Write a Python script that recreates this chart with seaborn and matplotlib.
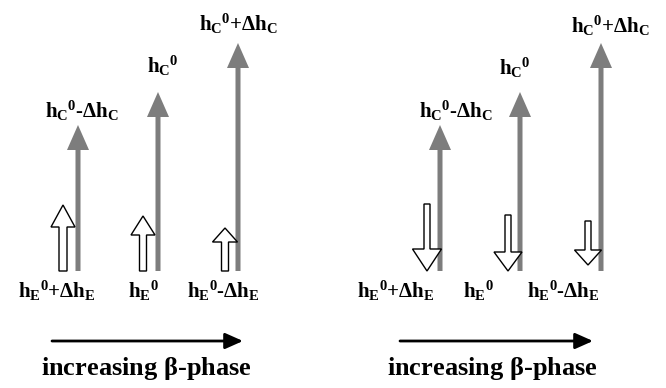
import matplotlib
matplotlib.use("Agg")
import matplotlib.pyplot as plt
from matplotlib.patches import FancyArrow
import seaborn as sns

# ---------------- data ----------------
hc_labels = [r"$h_C{}^0\text{-}\Delta h_C$", r"$h_C{}^0$", r"$h_C{}^0\mathrm{+}\Delta h_C$"]
he_labels = [r"$h_E{}^0\mathrm{+}\Delta h_E$", r"$h_E{}^0$", r"$h_E{}^0\text{-}\Delta h_E$"]
hc_heights = [146, 179, 228]          # grey arrows (collector), same in both panels
he_up_lengths = [66, 55, 43]          # left panel: white arrows pointing up
he_down_tops = [67, 56, 50]           # right panel: white arrows pointing down (start)
he_down_lengths = [67, 56, 44]
axis_label = r"increasing $\mathbf{\beta}$-phase"

# ---------------- layout ----------------
sns.set_theme(style="white")
plt.rcParams["mathtext.fontset"] = "custom"
plt.rcParams["mathtext.rm"] = "Liberation Serif:bold"
plt.rcParams["mathtext.it"] = "Liberation Serif:bold"
plt.rcParams["mathtext.bf"] = "Liberation Serif:bold"
plt.rcParams["font.family"] = ["Liberation Serif", "DejaVu Serif"]

fig = plt.figure(figsize=(6.66, 3.88), dpi=100)
ax = fig.add_axes([0, 0, 1, 1])
ax.set_xlim(0, 666)
ax.set_ylim(-117, 271)
ax.axis("off")

GREY = "#7d7d7d"
panels = [
    dict(grey_x=[78, 158, 238], white_x=[63, 143, 225],
         top_lab=[(82, 160), (163, 205), (238, 247)],
         bot_lab=[57, 143, 223], arrow=(52, 243), text_x=146, up=True,
         head_len=[22, 19, 14], head_w=[24, 24, 25], shaft_w=[8, 7, 7]),
    dict(grey_x=[440, 520, 601], white_x=[427, 508, 588],
         top_lab=[(456, 160), (515, 203), (610, 245)],
         bot_lab=[396, 478, 563], arrow=(400, 593), text_x=492, up=False,
         head_len=[22, 19, 15], head_w=[29, 28, 27], shaft_w=[6, 6, 6]),
]

for p in panels:
    for i in range(3):
        gx = p["grey_x"][i]
        ax.add_patch(FancyArrow(gx, 0, 0, hc_heights[i], width=5, head_width=22,
                                head_length=25, length_includes_head=True,
                                color=GREY, lw=0, zorder=2))
        wx = p["white_x"][i]
        if p["up"]:
            y0, dy = 0, he_up_lengths[i]
        else:
            y0, dy = he_down_tops[i], -he_down_lengths[i]
        ax.add_patch(FancyArrow(wx, y0, 0, dy, width=p["shaft_w"][i],
                                head_width=p["head_w"][i], head_length=p["head_len"][i],
                                length_includes_head=True, fc="white", ec="black",
                                lw=1.0, zorder=3))
        tx, ty = p["top_lab"][i]
        ax.text(tx, ty, hc_labels[i], ha="center", va="center", fontsize=15, color="black")
        ax.text(p["bot_lab"][i], -20, he_labels[i], ha="center", va="center",
                fontsize=15, color="black")
    x0, x1 = p["arrow"]
    ax.annotate("", xy=(x1, -70), xytext=(x0, -70),
                arrowprops=dict(arrowstyle="-|>,head_length=0.9,head_width=0.4",
                                lw=2, color="black", shrinkA=0, shrinkB=0))
    ax.text(p["text_x"], -97, axis_label, ha="center", va="center",
            fontsize=19, fontweight="bold", color="black")

fig.savefig("out.png", dpi=100)
